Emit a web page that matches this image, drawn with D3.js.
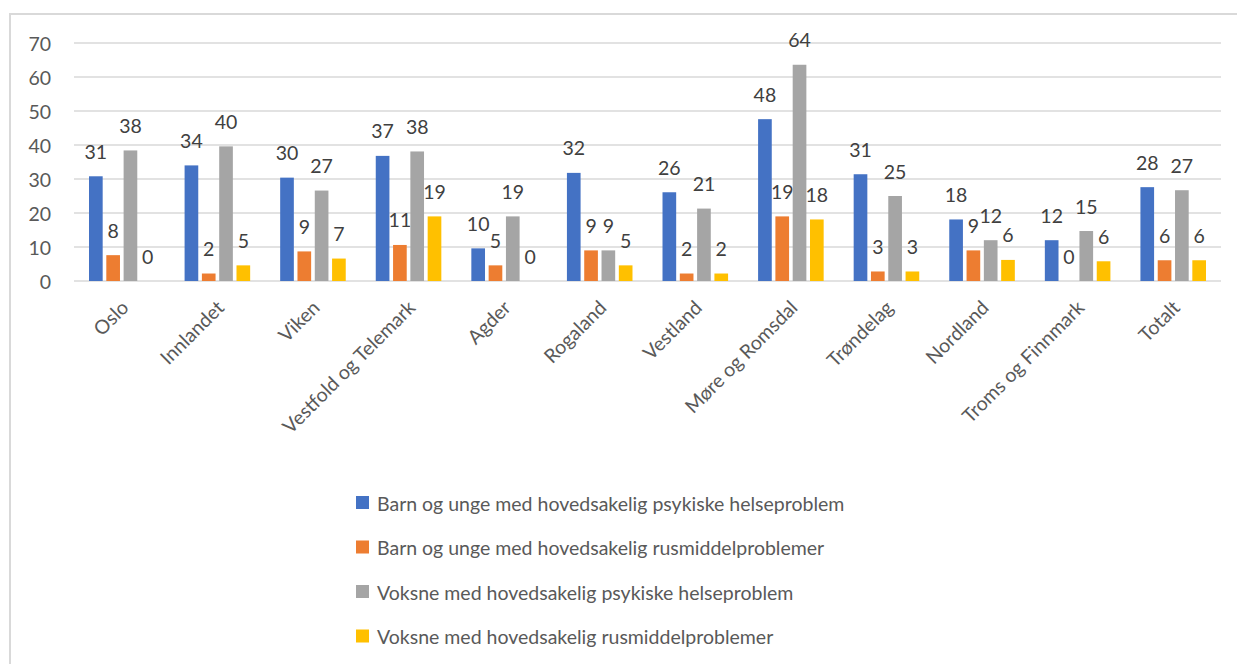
<!DOCTYPE html>
<html>

<head>
    <meta charset="utf-8">
    <title>Fylker</title>
    <script src="https://d3js.org/d3.v7.min.js"></script>
    <style>
        body { margin: 0; background: #fff; }
        text { font-family: Lato, "Open Sans", sans-serif; }
    </style>
</head>

<body>
    <script>
        // data
        var categories = ["Oslo", "Innlandet", "Viken", "Vestfold og Telemark", "Agder", "Rogaland",
            "Vestland", "Møre og Romsdal", "Trøndelag", "Nordland", "Troms og Finnmark", "Totalt"];
        var seriesNames = [
            "Barn og unge med hovedsakelig psykiske helseproblem",
            "Barn og unge med hovedsakelig rusmiddelproblemer",
            "Voksne med hovedsakelig psykiske helseproblem",
            "Voksne med hovedsakelig rusmiddelproblemer"
        ];
        var barnPsyk = [30.8, 34.0, 30.4, 36.8, 9.6, 31.8, 26.1, 47.6, 31.4, 18.1, 12.0, 27.6];
        var barnRus = [7.6, 2.2, 8.7, 10.6, 4.6, 9.0, 2.2, 19.0, 2.8, 9.0, 0, 6.1];
        var voksPsyk = [38.4, 39.6, 26.6, 38.1, 19.0, 9.0, 21.3, 63.6, 25.0, 12.0, 14.7, 26.7];
        var voksRus = [0, 4.6, 6.6, 19.0, 0, 4.6, 2.2, 18.1, 2.8, 6.2, 5.8, 6.1];
        var yTicks = [0, 10, 20, 30, 40, 50, 60, 70];
        var colors = ["#4472C4", "#ED7D31", "#A5A5A5", "#FFC000"];

        var allSeries = [barnPsyk, barnRus, voksPsyk, voksRus];

        var width = 1237, height = 664;
        var plotLeft = 74, plotRight = 1221, plotTop = 43, plotBottom = 281;
        var fontSize = "19.5px";

        var svg = d3.select("body").append("svg")
            .attr("width", width)
            .attr("height", height);

        // chart border
        svg.append("rect")
            .attr("x", 10).attr("y", 14)
            .attr("width", 1300).attr("height", 700)
            .style("fill", "none")
            .style("stroke", "#d9d9d9")
            .style("stroke-width", 2);

        var x0 = d3.scaleBand()
            .domain(categories)
            .range([plotLeft, plotRight])
            .paddingInner(0.314)
            .paddingOuter(0.157);

        var x1 = d3.scaleBand()
            .domain(d3.range(4))
            .range([0, x0.bandwidth()])
            .paddingInner(0.21);

        var y = d3.scaleLinear()
            .domain([0, 70])
            .range([plotBottom, plotTop]);

        // gridlines
        svg.append("g").selectAll("line")
            .data(yTicks)
            .join("line")
            .attr("x1", plotLeft)
            .attr("x2", plotRight)
            .attr("y1", d => y(d))
            .attr("y2", d => y(d))
            .style("stroke", "#d9d9d9")
            .style("stroke-width", 1.5);

        // y axis labels
        svg.append("g").selectAll("text")
            .data(yTicks)
            .join("text")
            .attr("x", 51)
            .attr("y", d => y(d))
            .attr("text-anchor", "end")
            .attr("dominant-baseline", "central")
            .style("font-size", fontSize)
            .style("fill", "#595959")
            .text(d => d);

        var fmt = d3.format(".0f");

        // bars + labels
        allSeries.forEach(function (values, s) {
            var g = svg.append("g");
            g.selectAll("rect")
                .data(values)
                .join("rect")
                .attr("x", (d, i) => x0(categories[i]) + x1(s))
                .attr("y", d => y(d))
                .attr("width", x1.bandwidth())
                .attr("height", d => y(0) - y(d))
                .style("fill", colors[s]);

            g.selectAll("text")
                .data(values)
                .join("text")
                .attr("x", (d, i) => x0(categories[i]) + x1(s) + x1.bandwidth() / 2)
                .attr("y", d => y(d) - 25)
                .attr("text-anchor", "middle")
                .attr("dominant-baseline", "central")
                .style("font-size", fontSize)
                .style("fill", "#404040")
                .text(d => fmt(d));
        });

        // category labels, rotated
        svg.append("g").selectAll("text")
            .data(categories)
            .join("text")
            .attr("transform", d => "translate(" + (x0(d) + x0.bandwidth() / 2 + 8) + "," + 309 + ") rotate(-45)")
            .attr("text-anchor", "end")
            .style("font-size", fontSize)
            .style("fill", "#595959")
            .text(d => d);

        // legend
        var legend = svg.append("g").selectAll("g")
            .data(seriesNames)
            .join("g")
            .attr("transform", (d, i) => "translate(356," + (503 + i * 44.5) + ")");

        legend.append("rect")
            .attr("x", 0).attr("y", -7)
            .attr("width", 13).attr("height", 13)
            .style("fill", (d, i) => colors[i]);

        legend.append("text")
            .attr("x", 21)
            .attr("y", 0)
            .attr("dominant-baseline", "central")
            .style("font-size", fontSize)
            .style("fill", "#595959")
            .text(d => d);
    </script>
</body>

</html>
